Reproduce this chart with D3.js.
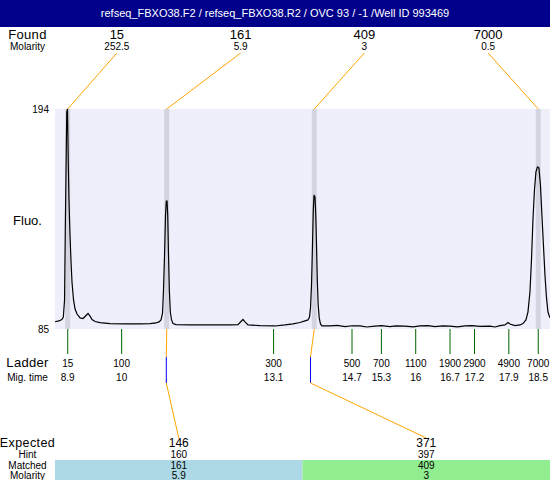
<!DOCTYPE html>
<html>
<head>
<meta charset="utf-8">
<script src="https://cdn.jsdelivr.net/npm/d3@7"></script>
<style>
  html, body { margin: 0; padding: 0; background: #fff; }
  svg { display: block; font-family: "Liberation Sans", Arial, sans-serif; }
</style>
</head>
<body>
<svg id="chart" width="550" height="480"></svg>
<script>
const titleText = "refseq_FBXO38.F2 / refseq_FBXO38.R2 / OVC 93 / -1  /Well ID 993469";

// Found peaks
const foundSizes = ["15", "161", "409", "7000"];
const foundMolarity = ["252.5", "5.9", "3", "0.5"];
const foundTimes = [8.9, 10.92, 13.93, 18.5];

// Ladder
const ladderSizes = ["15", "100", "300", "500", "700", "1100", "1900", "2900", "4900", "7000"];
const ladderTimes = [8.9, 10, 13.1, 14.7, 15.3, 16, 16.7, 17.2, 17.9, 18.5];

// Expected
const expectedSizes = ["146", "371"];
const expectedHint = ["160", "397"];
const expectedMatched = ["161", "409"];
const expectedMolarity = ["5.9", "3"];
const expectedTimes = [10.911, 13.853];
const expectedPeakTimes = [10.92, 13.93];
const matchColors = ["#add8e6", "#90ee90"];

// Y axis
const fluoTicks = [85, 194];

// Electropherogram trace (migration time, fluorescence)
const traceTime = [8.64, 8.72, 8.78, 8.81, 8.835, 8.85, 8.865, 8.88, 8.895, 8.91, 8.925, 8.945, 8.967, 8.988, 9.018, 9.049, 9.09, 9.151, 9.212, 9.273, 9.314, 9.355, 9.396, 9.457, 9.559, 9.763, 10.069, 10.375, 10.579, 10.701, 10.762, 10.803, 10.834, 10.854, 10.875, 10.895, 10.911, 10.926, 10.94, 10.956, 10.973, 10.993, 11.018, 11.048, 11.109, 11.395, 11.803, 12.211, 12.374, 12.435, 12.476, 12.517, 12.578, 12.823, 13.129, 13.333, 13.496, 13.639, 13.741, 13.802, 13.833, 13.853, 13.874, 13.894, 13.91, 13.925, 13.945, 13.961, 13.976, 13.992, 14.01, 14.031, 14.057, 14.088, 14.251, 14.4, 14.557, 14.7, 14.863, 15.0, 15.169, 15.3, 15.475, 15.6, 15.781, 15.95, 16.087, 16.25, 16.393, 16.55, 16.699, 16.85, 17.005, 17.15, 17.311, 17.515, 17.617, 17.719, 17.821, 17.882, 17.923, 18.025, 18.127, 18.188, 18.249, 18.29, 18.331, 18.362, 18.392, 18.423, 18.453, 18.484, 18.514, 18.545, 18.575, 18.606, 18.637, 18.667, 18.698, 18.739];
const traceFluo = [88.6, 89.0, 89.7, 90.9, 99.4, 134.1, 163.8, 192.5, 194.0, 168.7, 148.9, 132.6, 118.2, 107.8, 99.4, 94.9, 92.4, 90.5, 90.2, 91.7, 92.7, 91.4, 89.7, 88.7, 88.2, 87.7, 87.5, 87.5, 87.7, 88.0, 88.5, 89.5, 92.9, 104.3, 121.7, 141.5, 148.4, 148.4, 141.5, 121.7, 104.3, 93.4, 89.5, 87.7, 87.2, 87.0, 87.0, 87.0, 87.2, 88.7, 89.7, 88.5, 87.0, 86.7, 86.5, 87.0, 87.5, 88.2, 89.0, 89.5, 90.9, 95.4, 106.8, 126.6, 143.9, 151.4, 150.4, 141.5, 126.6, 109.3, 96.9, 90.5, 87.5, 86.5, 86.5, 86.8, 86.2, 86.6, 86.5, 86.0, 86.4, 86.7, 86.2, 86.5, 86.4, 86.1, 86.5, 86.7, 86.2, 86.5, 86.4, 86.1, 86.5, 86.7, 86.3, 86.4, 86.0, 86.7, 87.0, 88.2, 87.5, 86.7, 87.0, 87.7, 89.5, 93.4, 103.3, 119.2, 139.0, 153.9, 162.8, 165.3, 164.8, 156.4, 141.5, 126.6, 111.8, 100.9, 93.4, 90.5];

const svg = d3.select("#chart");
const W = 550, H = 480;
const plotL = 55, plotR = 550, plotT = 109, plotB = 329;

const x = d3.scaleLinear().domain([8.64, 18.74]).range([plotL, plotR]);
const y = d3.scaleLinear().domain([fluoTicks[0], fluoTicks[1]]).range([plotB, plotT]);
const foundBand = d3.scaleBand().domain(foundSizes).range([plotL, plotR]);
const expBand = d3.scaleBand().domain(expectedSizes).range([plotL, plotR]);
const labelX = 27.5;

// Title bar
svg.append("rect").attr("x", 0).attr("y", 0).attr("width", W).attr("height", 27).attr("fill", "#00008b");
svg.append("text").attr("x", W / 2).attr("y", 17).attr("text-anchor", "middle")
  .attr("fill", "#fff").attr("font-size", 11).text(titleText);

// Found header
svg.append("text").attr("x", labelX).attr("y", 39).attr("text-anchor", "middle")
  .attr("font-size", 13).attr("letter-spacing", 0.3).text("Found");
svg.append("text").attr("x", labelX).attr("y", 50).attr("text-anchor", "middle")
  .attr("font-size", 10).text("Molarity");
foundSizes.forEach((s, i) => {
  const cx = foundBand(s) + foundBand.bandwidth() / 2;
  svg.append("text").attr("x", cx).attr("y", 39).attr("text-anchor", "middle").attr("font-size", 13).text(s);
  svg.append("text").attr("x", cx).attr("y", 50).attr("text-anchor", "middle").attr("font-size", 10).text(foundMolarity[i]);
});

// Plot background
svg.append("rect").attr("x", plotL).attr("y", plotT).attr("width", plotR - plotL).attr("height", plotB - plotT)
  .attr("fill", "#efeffb");

// Peak bands
svg.selectAll(".band").data(foundTimes).enter().append("rect")
  .attr("x", d => x(d) - 2.5).attr("y", plotT).attr("width", 5).attr("height", plotB - plotT)
  .attr("fill", "#d4d4e0");

// Found connectors
foundSizes.forEach((s, i) => {
  const cx = foundBand(s) + foundBand.bandwidth() / 2;
  svg.append("line").attr("x1", cx).attr("y1", 53).attr("x2", x(foundTimes[i])).attr("y2", plotT)
    .attr("stroke", "#ffa500").attr("stroke-width", 1);
});

// Trace
const pts = traceTime.map((t, i) => [t, traceFluo[i]]);
svg.append("path").datum(pts)
  .attr("d", d3.line().x(d => x(d[0])).y(d => y(d[1])))
  .attr("fill", "none").attr("stroke", "#000").attr("stroke-width", 1.2);

// Y axis labels
svg.append("text").attr("x", 49).attr("y", plotT + 4).attr("text-anchor", "end").attr("font-size", 10).text(fluoTicks[1]);
svg.append("text").attr("x", 49).attr("y", plotB + 4).attr("text-anchor", "end").attr("font-size", 10).text(fluoTicks[0]);
svg.append("text").attr("x", labelX).attr("y", 225).attr("text-anchor", "middle").attr("font-size", 13).text("Fluo.");

// Ladder
svg.append("text").attr("x", labelX).attr("y", 367).attr("text-anchor", "middle")
  .attr("font-size", 13).attr("letter-spacing", 0.3).text("Ladder");
svg.append("text").attr("x", labelX).attr("y", 381).attr("text-anchor", "middle")
  .attr("font-size", 10).text("Mig. time");
ladderSizes.forEach((s, i) => {
  const lx = x(ladderTimes[i]);
  svg.append("line").attr("x1", lx).attr("y1", plotB).attr("x2", lx).attr("y2", 354)
    .attr("stroke", "#006400").attr("stroke-width", 1);
  svg.append("text").attr("x", lx).attr("y", 367).attr("text-anchor", "middle").attr("font-size", 10).text(s);
  svg.append("text").attr("x", lx).attr("y", 381).attr("text-anchor", "middle").attr("font-size", 10).text(ladderTimes[i]);
});

// Expected connectors
expectedSizes.forEach((s, i) => {
  const cx = expBand(s) + expBand.bandwidth() / 2;
  const ex = x(expectedTimes[i]);
  svg.append("line").attr("x1", x(expectedPeakTimes[i])).attr("y1", plotB).attr("x2", ex).attr("y2", 357)
    .attr("stroke", "#ffa500").attr("stroke-width", 1);
  svg.append("line").attr("x1", ex).attr("y1", 357).attr("x2", ex).attr("y2", 383)
    .attr("stroke", "#0000ff").attr("stroke-width", 1);
  svg.append("line").attr("x1", ex).attr("y1", 383).attr("x2", cx).attr("y2", 438)
    .attr("stroke", "#ffa500").attr("stroke-width", 1);
});

// Expected table
expectedSizes.forEach((s, i) => {
  svg.append("rect").attr("x", expBand(s)).attr("y", 460).attr("width", expBand.bandwidth()).attr("height", 20)
    .attr("fill", matchColors[i]);
});
svg.append("text").attr("x", labelX).attr("y", 447).attr("text-anchor", "middle").attr("font-size", 12.5)
  .attr("letter-spacing", 0.4).text("Expected");
[["Hint", 458], ["Matched", 469], ["Molarity", 478.5]].forEach(([t, yy]) => {
  svg.append("text").attr("x", labelX).attr("y", yy).attr("text-anchor", "middle").attr("font-size", 10).text(t);
});
expectedSizes.forEach((s, i) => {
  const cx = expBand(s) + expBand.bandwidth() / 2;
  svg.append("text").attr("x", cx).attr("y", 447).attr("text-anchor", "middle").attr("font-size", 12).text(s);
  svg.append("text").attr("x", cx).attr("y", 458).attr("text-anchor", "middle").attr("font-size", 10).text(expectedHint[i]);
  svg.append("text").attr("x", cx).attr("y", 469).attr("text-anchor", "middle").attr("font-size", 10).text(expectedMatched[i]);
  svg.append("text").attr("x", cx).attr("y", 478.5).attr("text-anchor", "middle").attr("font-size", 10).text(expectedMolarity[i]);
});
</script>
</body>
</html>
